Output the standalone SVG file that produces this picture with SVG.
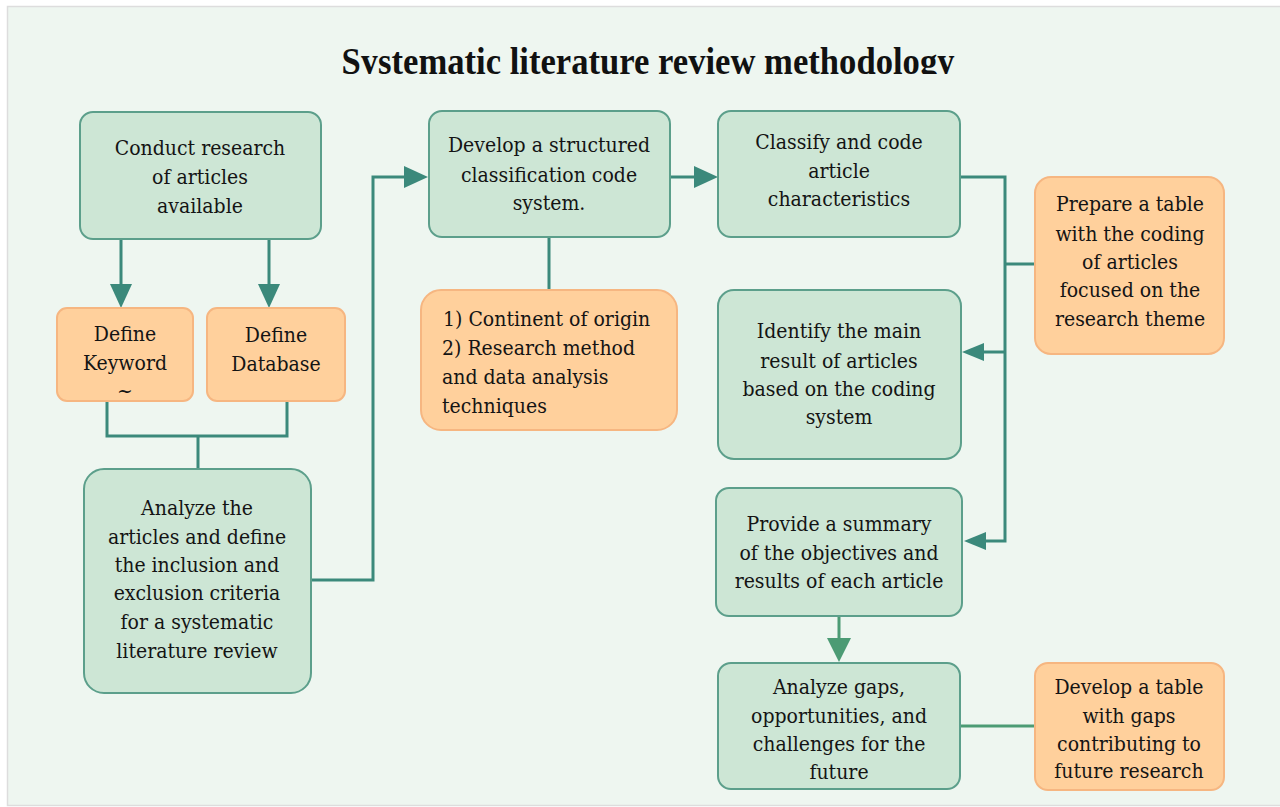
<svg xmlns="http://www.w3.org/2000/svg" width="1280" height="807" viewBox="0 0 1280 807">
<style>
.g{fill:#cde6d5;stroke:#5c9f8b;stroke-width:2}
.o{fill:#ffd09c;stroke:#f6b681;stroke-width:2}
.t{font-size:21px;fill:#141414;text-anchor:middle}
.l{text-anchor:start}
.c{fill:none;stroke:#3b897b;stroke-width:3}
.c2{fill:none;stroke:#4c9b74;stroke-width:3}
</style>
<defs>
<marker id="ab" markerUnits="userSpaceOnUse" markerWidth="24" markerHeight="22" refX="18" refY="11" orient="auto"><path d="M0,0 L24,11 L0,22 z" fill="#3b897b"/></marker>
<marker id="ab2" markerUnits="userSpaceOnUse" markerWidth="24" markerHeight="24" refX="18" refY="12" orient="auto"><path d="M0,0 L24,12 L0,24 z" fill="#4c9b74"/></marker>
<marker id="as" markerUnits="userSpaceOnUse" markerWidth="22" markerHeight="18" refX="16" refY="9" orient="auto"><path d="M0,0 L22,9 L0,18 z" fill="#3b897b"/></marker>
<clipPath id="tc"><rect x="0" y="0" width="1280" height="74"/></clipPath>
</defs>
<rect x="0" y="0" width="1280" height="807" fill="#ffffff"/>
<rect x="7.5" y="6.5" width="1280" height="799" fill="#eef6f0" stroke="#dddddd" stroke-width="1.5"/>
<g id="title" clip-path="url(#tc)">
<text x="648" y="74" font-family="Liberation Serif, Times New Roman, serif" font-weight="bold" font-size="37" text-anchor="middle" textLength="613" lengthAdjust="spacingAndGlyphs" fill="#111">Systematic literature review methodology</text>
</g>
<g id="connectors">
<path class="c" d="M121,240 V302" marker-end="url(#ab)"/>
<path class="c" d="M269,240 V302" marker-end="url(#ab)"/>
<path class="c" d="M107,401 V436 H287 V401 M198,436 V469"/>
<path class="c" d="M311,580 H373 V177 H422" marker-end="url(#ab)"/>
<path class="c" d="M549,237 V290"/>
<path class="c" d="M670,177 H712" marker-end="url(#ab)"/>
<path class="c" d="M960,177 H1005 V541 H970" marker-end="url(#as)"/>
<path class="c" d="M1005,352 H968" marker-end="url(#as)"/>
<path class="c" d="M1005,264 H1035"/>
<path class="c2" d="M839,617 V656" marker-end="url(#ab2)"/>
<path class="c2" d="M960,726 H1035"/>
</g>
<g font-family="DejaVu Serif Condensed, DejaVu Serif, serif">
<g id="conduct">
<rect class="g" x="80" y="112" width="241" height="127" rx="13"/>
<text class="t" x="200" y="155">Conduct research</text>
<text class="t" x="200" y="184">of articles</text>
<text class="t" x="200" y="213">available</text>
</g>
<g id="keyword">
<rect class="o" x="57" y="308" width="136" height="93" rx="10"/>
<text class="t" x="125" y="341">Define</text>
<text class="t" x="125" y="370">Keyword</text>
<text class="t" x="125" y="398" font-size="12">~</text>
</g>
<g id="database">
<rect class="o" x="207" y="308" width="138" height="93" rx="10"/>
<text class="t" x="276" y="342">Define</text>
<text class="t" x="276" y="371">Database</text>
</g>
<g id="analyze">
<rect class="g" x="84" y="469" width="227" height="224" rx="20"/>
<text class="t" x="197" y="515">Analyze the</text>
<text class="t" x="197" y="544">articles and define</text>
<text class="t" x="197" y="572">the inclusion and</text>
<text class="t" x="197" y="600">exclusion criteria</text>
<text class="t" x="197" y="629">for a systematic</text>
<text class="t" x="197" y="658">literature review</text>
</g>
<g id="develop">
<rect class="g" x="429" y="111" width="241" height="126" rx="13"/>
<text class="t" x="549" y="152">Develop a structured</text>
<text class="t" x="549" y="182">classification code</text>
<text class="t" x="549" y="210">system.</text>
</g>
<g id="continent">
<rect class="o" x="421" y="290" width="256" height="140" rx="20"/>
<text class="t l" x="443" y="326">1) Continent of origin</text>
<text class="t l" x="442" y="355">2) Research method</text>
<text class="t l" x="442" y="384">and data analysis</text>
<text class="t l" x="442" y="413">techniques</text>
</g>
<g id="classify">
<rect class="g" x="718" y="111" width="242" height="126" rx="13"/>
<text class="t" x="839" y="149">Classify and code</text>
<text class="t" x="839" y="178">article</text>
<text class="t" x="839" y="206">characteristics</text>
</g>
<g id="prepare">
<rect class="o" x="1035" y="177" width="189" height="177" rx="16"/>
<text class="t" x="1130" y="211">Prepare a table</text>
<text class="t" x="1130" y="241">with the coding</text>
<text class="t" x="1130" y="269">of articles</text>
<text class="t" x="1130" y="297">focused on the</text>
<text class="t" x="1130" y="326">research theme</text>
</g>
<g id="identify">
<rect class="g" x="718" y="290" width="243" height="169" rx="16"/>
<text class="t" x="839" y="338">Identify the main</text>
<text class="t" x="839" y="368">result of articles</text>
<text class="t" x="839" y="396">based on the coding</text>
<text class="t" x="839" y="424">system</text>
</g>
<g id="summary">
<rect class="g" x="716" y="488" width="246" height="128" rx="13"/>
<text class="t" x="839" y="531">Provide a summary</text>
<text class="t" x="839" y="560">of the objectives and</text>
<text class="t" x="839" y="588">results of each article</text>
</g>
<g id="gaps">
<rect class="g" x="718" y="663" width="242" height="126" rx="13"/>
<text class="t" x="839" y="694">Analyze gaps,</text>
<text class="t" x="839" y="723">opportunities, and</text>
<text class="t" x="839" y="751">challenges for the</text>
<text class="t" x="839" y="779">future</text>
</g>
<g id="gaptable">
<rect class="o" x="1035" y="663" width="189" height="127" rx="13"/>
<text class="t" x="1129" y="694">Develop a table</text>
<text class="t" x="1129" y="723">with gaps</text>
<text class="t" x="1129" y="751">contributing to</text>
<text class="t" x="1129" y="778">future research</text>
</g>
</g>
</svg>
